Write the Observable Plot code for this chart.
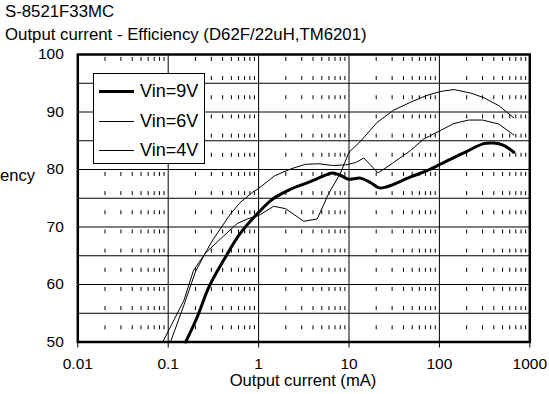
<!DOCTYPE html>
<html><head><meta charset="utf-8">
<script src="https://cdn.jsdelivr.net/npm/d3@7"></script>
<script src="https://cdn.jsdelivr.net/npm/@observablehq/plot@0.6"></script>
<style>
body{margin:0;background:#fff;}
#wrap{position:relative;width:549px;height:394px;overflow:hidden;font-family:"Liberation Sans",Arial,sans-serif;color:#000;background:#fff;}
#title{height:44px;padding-left:5px;font-size:16.8px;line-height:23px;white-space:nowrap;}
#xlabel{position:absolute;left:77px;width:452px;top:374px;text-align:center;font-size:16.6px;line-height:14px;}
#ylabel{position:absolute;right:514px;top:168px;font-size:16.6px;line-height:16px;white-space:nowrap;}
#legend{position:absolute;left:93px;top:73px;width:110px;height:89px;border:1px solid #000;background:#fff;}
.row{position:absolute;left:5px;height:24px;display:flex;align-items:center;font-size:18px;}
.sw{width:35px;background:#000;margin-right:6px;}
</style></head>
<body>
<div id="wrap">
  <div id="title"></div>
  <div id="chart"></div>
  <div id="xlabel"></div>
  <div id="ylabel"></div>
  <div id="legend"></div>
</div>
<script>
const titleLines = ["S-8521F33MC", "Output current - Efficiency (D62F/22uH,TM6201)"];
const xAxisLabel = "Output current (mA)";
const yAxisLabel = "Efficiency";
const seriesNames = ["Vin=9V", "Vin=6V", "Vin=4V"];
const seriesWidths = [3, 1, 1];

const current9V = [0.156, 0.209, 0.281, 0.41, 0.62, 0.98, 1.36, 1.54, 2.27, 3.6, 5.7, 6.6, 8, 10, 11.3, 13.4, 17.4, 21.5, 26.3, 48, 73, 105, 204, 309, 400, 514, 665];
const eff9V    = [50, 54.3, 59.5, 64.2, 68.8, 72.4, 74.6, 75.2, 76.6, 77.8, 79.1, 79.4, 79.0, 78.3, 78.4, 78.5, 77.7, 76.8, 77.0, 78.7, 79.8, 81.0, 83.2, 84.5, 84.6, 84.2, 83.0];

const current6V = [0.106, 0.15, 0.2, 0.256, 0.307, 0.43, 0.49, 0.63, 0.85, 1.0, 1.5, 2.27, 3.3, 4.6, 6.6, 9.2, 11.8, 14.6, 21, 31, 48, 67, 145, 210, 300, 454, 665];
const eff6V    = [50, 56.5, 62.2, 65.4, 67.6, 71.0, 72.3, 74.3, 76.0, 76.7, 78.9, 80.1, 80.9, 81.0, 80.7, 80.8, 81.2, 82.0, 79.4, 81.2, 83.3, 85.3, 88.0, 88.6, 88.6, 87.9, 86.0];

const current4V = [0.087, 0.149, 0.19, 0.256, 0.395, 0.58, 0.75, 1.0, 1.47, 1.98, 3.16, 4.45, 5.95, 8, 10, 13.4, 20.5, 31, 48, 73, 105, 145, 221, 309, 454, 665];
const eff4V    = [50, 57.2, 62.4, 65.4, 68.2, 70.6, 71.4, 72.0, 73.6, 73.2, 71.0, 71.4, 75.8, 79.3, 83.0, 84.9, 88.2, 90.3, 91.7, 92.9, 93.6, 93.9, 93.3, 92.5, 91.1, 89.0];

const xTicks = [0.01, 0.1, 1, 10, 100, 1000];
const yTicks = [50, 60, 70, 80, 90, 100];
const yGrid = [55, 60, 65, 70, 75, 80, 85, 90, 95];
const xGrid = [0.1, 1, 10, 100];
const decades = [0.01, 0.1, 1, 10, 100];
const minorSteps = [2, 3, 4, 5, 6, 7, 8, 9];

const toRows = (xs, ys, name) => xs.map((c, i) => ({current: c, eff: ys[i], series: name}));
const rows9 = toRows(current9V, eff9V, seriesNames[0]);
const rows6 = toRows(current6V, eff6V, seriesNames[1]);
const rows4 = toRows(current4V, eff4V, seriesNames[2]);
const minor = decades.flatMap(d => minorSteps.map(k => d * k));

document.getElementById("title").innerHTML = titleLines.map(t => `<div>${t}</div>`).join("");
document.getElementById("xlabel").textContent = xAxisLabel;
document.getElementById("ylabel").textContent = yAxisLabel;
const rowTops = [5, 35, 64];
document.getElementById("legend").innerHTML = seriesNames.map((n, i) =>
  `<div class="row" style="top:${rowTops[i]}px"><div class="sw" style="height:${seriesWidths[i]}px"></div><span>${n}</span></div>`).join("");

const chart = Plot.plot({
  width: 549, height: 350,
  marginTop: 10, marginBottom: 52.5, marginLeft: 77.3, marginRight: 19.7,
  style: {fontFamily: '"Liberation Sans", Arial, sans-serif', fontSize: "15.5px", color: "#000", background: "white", overflow: "visible"},
  x: {type: "log", domain: [0.01, 1000]},
  y: {domain: [50, 100]},
  marks: [
    Plot.ruleY(yGrid, {stroke: "#000", strokeWidth: 1}),
    Plot.ruleX(xGrid, {stroke: "#000", strokeWidth: 1}),
    Plot.ruleX(minor, {y1: 50, y2: 100, stroke: "#000", strokeWidth: 1, strokeDasharray: "4 15.17", strokeDashoffset: 6.97}),
    Plot.line(rows4, {x: "current", y: "eff", stroke: "#000", strokeWidth: seriesWidths[2]}),
    Plot.line(rows6, {x: "current", y: "eff", stroke: "#000", strokeWidth: seriesWidths[1]}),
    Plot.line(rows9, {x: "current", y: "eff", stroke: "#000", strokeWidth: seriesWidths[0], curve: "catmull-rom"}),
    Plot.frame({stroke: "#000", strokeWidth: 2.5}),
    Plot.axisX({ticks: xTicks, tickSize: 6, tickPadding: 10, tickFormat: d => String(d), label: null}),
    Plot.axisY({ticks: yTicks, tickSize: 0, tickPadding: 14, label: null})
  ]
});
document.getElementById("chart").appendChild(chart);
</script>
</body></html>
